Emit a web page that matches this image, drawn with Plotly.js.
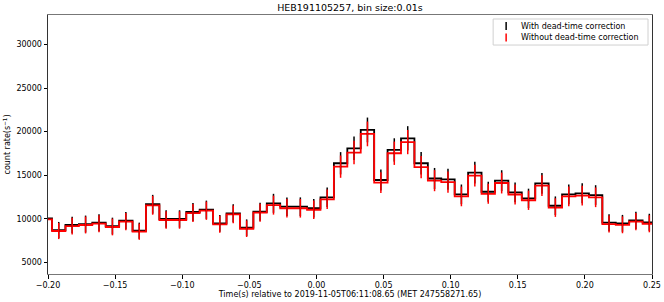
<!DOCTYPE html>
<html>
<head>
<meta charset="utf-8">
<script src="https://cdn.plot.ly/plotly-3.0.1.min.js"></script>
<style>
  html, body { margin: 0; padding: 0; background: #fff; }
  #plot { width: 664px; height: 302px; }
</style>
</head>
<body>
<div id="plot"></div>
<script>
// bin centres (s), bin size 0.01 s
var binCentres = [-0.202, -0.192, -0.182, -0.172, -0.162, -0.152, -0.142, -0.132, -0.122, -0.112,
  -0.102, -0.092, -0.082, -0.072, -0.062, -0.052, -0.042, -0.032, -0.022, -0.012,
  -0.002, 0.008, 0.018, 0.028, 0.038, 0.048, 0.058, 0.068, 0.078, 0.088,
  0.098, 0.108, 0.118, 0.128, 0.138, 0.148, 0.158, 0.168, 0.178, 0.188,
  0.198, 0.208, 0.218, 0.228, 0.238, 0.248];
var binSize = 0.01;

// count rate with dead-time correction
var rateCorr = [10050, 8700, 9280, 9390, 9540, 9160, 9770, 8620, 11660, 9970,
  9970, 10770, 11030, 9470, 10620, 8970, 10800, 11770, 11380, 11380,
  11200, 12460, 16370, 18090, 20200, 14450, 17900, 19240, 16370, 14620,
  14530, 12800, 15290, 13100, 14370, 13030, 12340, 14070, 11490, 12800,
  12920, 12720, 9540, 9470, 9820, 9590];

// count rate without dead-time correction
var rateRaw = [9930, 8590, 9160, 9280, 9430, 9050, 9660, 8510, 11540, 9850,
  9850, 10650, 10920, 9360, 10500, 8850, 10690, 11560, 11200, 11200,
  11030, 12230, 15980, 17600, 19740, 14140, 17520, 18800, 15930, 14370,
  14200, 12560, 14950, 12860, 14100, 12780, 12120, 13800, 11280, 12560,
  12650, 12460, 9390, 9300, 9660, 9420];

// error bars
var rateErr = [1000, 930, 960, 970, 980, 960, 990, 930, 1080, 1000,
  1000, 1040, 1050, 970, 1030, 950, 1040, 1090, 1070, 1070,
  1060, 1120, 1280, 1350, 1420, 1200, 1340, 1390, 1280, 1210,
  1210, 1130, 1240, 1150, 1200, 1140, 1110, 1190, 1070, 1130,
  1140, 1130, 980, 970, 990, 980];

var xTicks = [-0.20, -0.15, -0.10, -0.05, 0.00, 0.05, 0.10, 0.15, 0.20, 0.25];
var yTicks = [5000, 10000, 15000, 20000, 25000, 30000];
var legendNames = ['With dead-time correction', 'Without dead-time correction'];
var legendColors = ['black', 'red'];

// step outlines from bin edges
function edges() {
  var e = binCentres.map(function (c) { return c - binSize / 2; });
  e.push(binCentres[binCentres.length - 1] + binSize / 2);
  return e;
}
function stepY(v) { return v.concat([v[v.length - 1]]); }

var fontFam = 'DejaVu Sans, sans-serif';

function stepTrace(v, color) {
  return {
    x: edges(), y: stepY(v), type: 'scatter', mode: 'lines',
    line: {shape: 'hv', color: color, width: 1.8},
    showlegend: false, hoverinfo: 'skip'
  };
}
function errTrace(v, color) {
  return {
    x: binCentres, y: v, type: 'scatter', mode: 'markers',
    marker: {size: 0.1, color: color, opacity: 0},
    error_y: {type: 'data', array: rateErr, visible: true, color: color, thickness: 1.5, width: 0},
    showlegend: false
  };
}

var data = [
  stepTrace(rateCorr, 'black'),
  stepTrace(rateRaw, 'red'),
  errTrace(rateCorr, 'black'),
  errTrace(rateRaw, 'red')
];

// hand-made legend box in the upper right corner
var shapes = [{
  type: 'rect', xref: 'paper', yref: 'paper',
  x0: 0.737, x1: 0.9934, y0: 0.884, y1: 0.9846,
  line: {color: '#d0d0d0', width: 1}, fillcolor: 'rgba(255,255,255,0.8)'
}];
var annotations = [];
var rowY = [0.9575, 0.913];
legendNames.forEach(function (name, i) {
  shapes.push({
    type: 'line', xref: 'paper', yref: 'paper',
    x0: 0.7585, x1: 0.7585, y0: rowY[i] - 0.0154, y1: rowY[i] + 0.0154,
    line: {color: legendColors[i], width: 1.5}
  });
  annotations.push({
    xref: 'paper', yref: 'paper', x: 0.7805, y: rowY[i],
    xanchor: 'left', yanchor: 'middle', showarrow: false,
    text: name, font: {size: 8, family: fontFam}
  });
});

var layout = {
  width: 664, height: 302,
  margin: {l: 47.5, r: 12, t: 15, b: 28},
  paper_bgcolor: '#fff', plot_bgcolor: '#fff',
  font: {family: fontFam, size: 8, color: '#000'},
  showlegend: false,
  title: {text: 'HEB191105257, bin size:0.01s', font: {size: 9.5}, x: 0.527, xanchor: 'center', y: 0.975, yanchor: 'middle'},
  xaxis: {
    range: [-0.20, 0.25], tickvals: xTicks, tickformat: '.2f',
    ticks: 'outside', ticklen: 3.5, tickcolor: '#000', showgrid: false, zeroline: false,
    showline: true, mirror: true, linecolor: '#777', linewidth: 1.3,
    title: {text: 'Time(s) relative to 2019-11-05T06:11:08.65 (MET 247558271.65)', font: {size: 8}, standoff: 2}
  },
  yaxis: {
    range: [3650, 33400], tickvals: yTicks, tickformat: 'd',
    ticks: 'outside', ticklen: 3.5, tickcolor: '#000', showgrid: false, zeroline: false,
    showline: true, mirror: true, linecolor: '#333', linewidth: 1,
    title: {text: 'count rate(s<sup>\u22121</sup>)', font: {size: 8}, standoff: 4}
  },
  shapes: shapes,
  annotations: annotations
};

Plotly.newPlot('plot', data, layout, {displayModeBar: false, staticPlot: true});
</script>
</body>
</html>
